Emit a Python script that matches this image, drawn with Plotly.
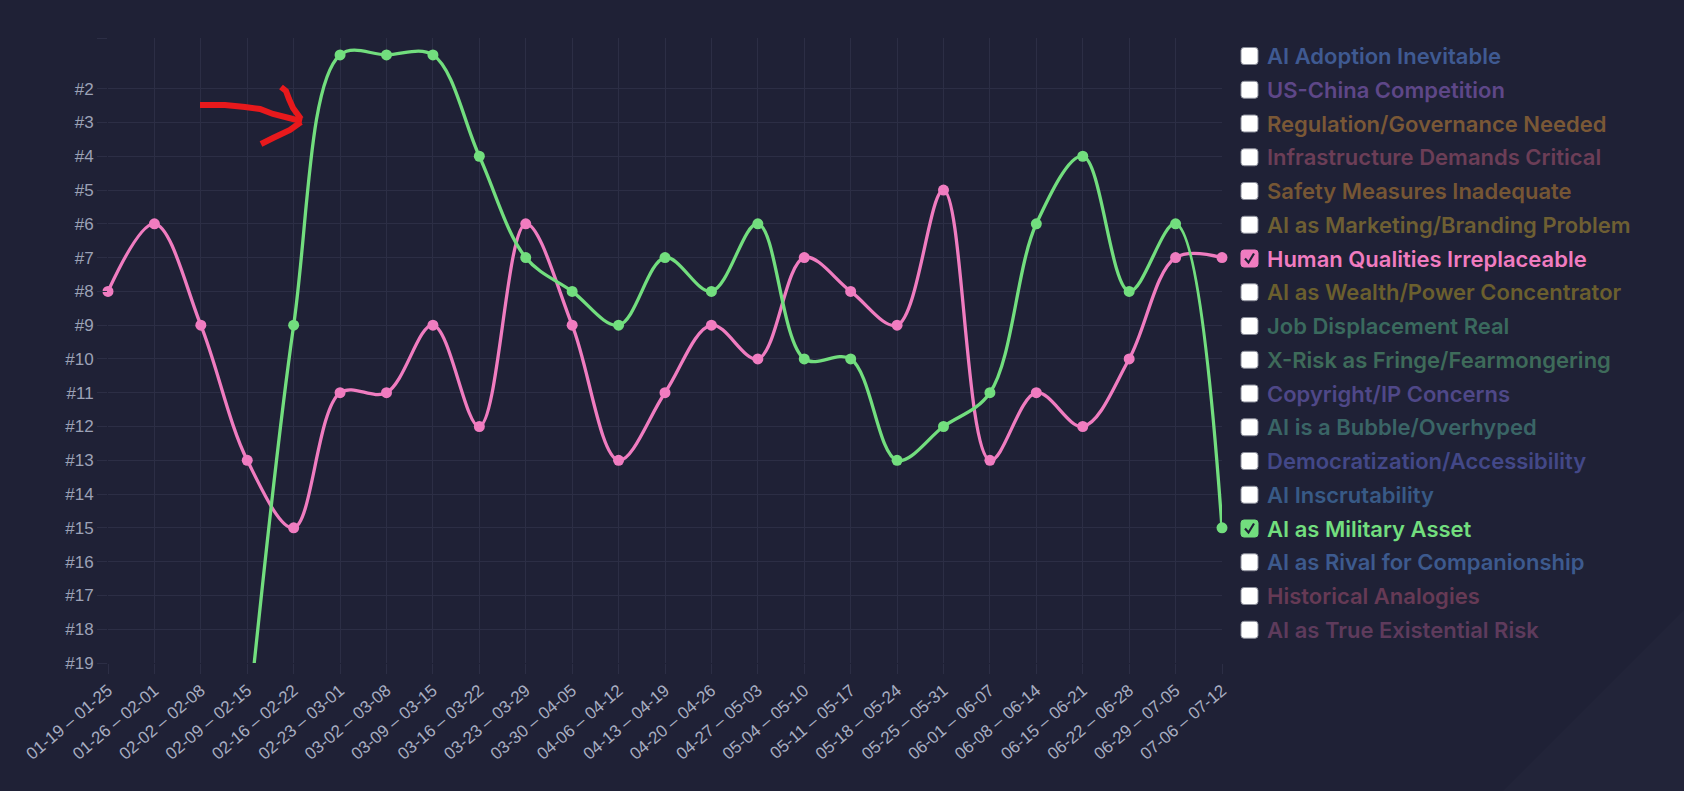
import plotly.graph_objects as go

# weekly ranking of two selected topics (lower rank number = more prominent)
weeks = ["01-19 – 01-25", "01-26 – 02-01", "02-02 – 02-08", "02-09 – 02-15",
         "02-16 – 02-22", "02-23 – 03-01", "03-02 – 03-08", "03-09 – 03-15",
         "03-16 – 03-22", "03-23 – 03-29", "03-30 – 04-05", "04-06 – 04-12",
         "04-13 – 04-19", "04-20 – 04-26", "04-27 – 05-03", "05-04 – 05-10",
         "05-11 – 05-17", "05-18 – 05-24", "05-25 – 05-31", "06-01 – 06-07",
         "06-08 – 06-14", "06-15 – 06-21", "06-22 – 06-28", "06-29 – 07-05",
         "07-06 – 07-12"]

human_rank = [8, 6, 9, 13, 15, 11, 11, 9, 12, 6, 9, 13, 11, 9, 10, 7, 8, 9, 5,
              13, 11, 12, 10, 7, 7]
military_rank = [None, None, None, 21, 9, 1, 1, 1, 4, 7, 8, 9, 7, 8, 6, 10, 10,
                 13, 12, 11, 6, 4, 8, 6, 15]

topics = ["AI Adoption Inevitable", "US-China Competition",
          "Regulation/Governance Needed", "Infrastructure Demands Critical",
          "Safety Measures Inadequate", "AI as Marketing/Branding Problem",
          "Human Qualities Irreplaceable", "AI as Wealth/Power Concentrator",
          "Job Displacement Real", "X-Risk as Fringe/Fearmongering",
          "Copyright/IP Concerns", "AI is a Bubble/Overhyped",
          "Democratization/Accessibility", "AI Inscrutability",
          "AI as Military Asset", "AI as Rival for Companionship",
          "Historical Analogies", "AI as True Existential Risk"]
topic_colors = ["#3f5a92", "#5e4788", "#7a5836", "#6c3e57", "#765634", "#6e5f33",
                "#f07cc0", "#6b5f2e", "#3a6a5e", "#3e6b5a", "#4f4888", "#3a6566",
                "#434888", "#385a86", "#72de7e", "#3d5a8e", "#663a55", "#5e3b5c"]
checked = ["Human Qualities Irreplaceable", "AI as Military Asset"]

PINK = "#f07cc0"
GREEN = "#72de7e"
BG = "#1f2136"
GRID = "#2c2e45"
MAX_RANK = 19

W, H = 1684, 791
L, R, T, B = 108, 1222, 38, 663


def px(x):
    return (x - L) / (R - L)


def py(y):
    return (B - y) / (B - T)


def path(points):
    return "M " + " L ".join("%.5f,%.5f" % (px(a), py(b)) for a, b in points)


def visible(vals):
    return [v if v is not None and v <= MAX_RANK else None for v in vals]


fig = go.Figure()
for vals, col, name in ((human_rank, PINK, "Human Qualities Irreplaceable"),
                        (military_rank, GREEN, "AI as Military Asset")):
    fig.add_trace(go.Scatter(x=weeks, y=vals, mode="lines", name=name,
                             line=dict(color=col, width=3.3, shape="spline", smoothing=1)))
    fig.add_trace(go.Scatter(x=weeks, y=visible(vals), mode="markers", name=name,
                             marker=dict(size=11, color=col), cliponaxis=False))

shapes = []
annotations = []

# faint lighter corner of the card background
shapes.append(dict(type="path", xref="paper", yref="paper", layer="below",
                   path=path([(1684, 610), (1684, 791), (1503, 791)]) + " Z",
                   fillcolor="rgba(255,255,255,0.015)", line=dict(width=0)))

# custom checkbox legend
for i, (t, c) in enumerate(zip(topics, topic_colors)):
    cy = 56 + i * 33.75
    x0, x1, y0, y1, r = 1241, 1258, cy - 8.5, cy + 8.5, 3
    box = ("M %f,%f L %f,%f Q %f,%f %f,%f L %f,%f Q %f,%f %f,%f L %f,%f Q %f,%f %f,%f "
           "L %f,%f Q %f,%f %f,%f Z") % (
        px(x0 + r), py(y0), px(x1 - r), py(y0), px(x1), py(y0), px(x1), py(y0 + r),
        px(x1), py(y1 - r), px(x1), py(y1), px(x1 - r), py(y1),
        px(x0 + r), py(y1), px(x0), py(y1), px(x0), py(y1 - r),
        px(x0), py(y0 + r), px(x0), py(y0), px(x0 + r), py(y0))
    on = t in checked
    shapes.append(dict(type="path", xref="paper", yref="paper", path=box,
                       fillcolor=c if on else "#ffffff",
                       line=dict(color=c if on else "#8a8d99", width=1)))
    if on:
        shapes.append(dict(type="path", xref="paper", yref="paper",
                           path=path([(x0 + 4, cy), (x0 + 7.5, cy + 4), (x1 - 4, cy - 5)]),
                           line=dict(color="#1f2136", width=2.2)))
    annotations.append(dict(xref="paper", yref="paper", x=px(1265), y=py(cy),
                            xanchor="left", yanchor="middle", showarrow=False, text=t,
                            font=dict(family="Inter", size=22, weight=600, color=c)))

# hand-drawn red arrow
RED = "#e8191c"
for pts in ([(200, 105), (225, 105), (245, 107), (260, 109), (273, 114), (293, 119), (302, 121)],
            [(281, 87), (286, 91), (289, 99), (293, 108), (301, 119)],
            [(261, 144), (273, 138), (290, 130), (301, 122)]):
    shapes.append(dict(type="path", xref="paper", yref="paper", path=path(pts),
                       line=dict(color=RED, width=6)))

fig.update_layout(
    width=W, height=H,
    margin=dict(l=L, r=W - R, t=T, b=H - B),
    paper_bgcolor=BG, plot_bgcolor=BG,
    showlegend=False,
    shapes=shapes, annotations=annotations,
    font=dict(family="Liberation Sans, Arial", color="#a3a9bd"),
)
fig.update_xaxes(type="category", range=[0, len(weeks) - 1], showgrid=True,
                 gridcolor=GRID, gridwidth=1, zeroline=False,
                 ticks="outside", ticklen=10, tickcolor=GRID, tickangle=-40,
                 tickfont=dict(size=17, color="#a8aec2"), showline=False)
fig.update_yaxes(range=[MAX_RANK, 0.5], tickvals=[0.5] + list(range(2, MAX_RANK + 1)),
                 ticktext=[""] + ["#%d" % n for n in range(2, MAX_RANK + 1)],
                 showgrid=True, gridcolor=GRID, gridwidth=1, zeroline=False,
                 ticks="outside", ticklen=10, tickcolor=GRID,
                 tickfont=dict(size=17, color="#9ca2b6"), showline=False)

fig.write_html("out.html", config={"displayModeBar": False}, post_script=(
    "document.body.style.margin='0';document.body.style.background='%s';"
    "document.body.style.overflow='hidden';" % BG))
